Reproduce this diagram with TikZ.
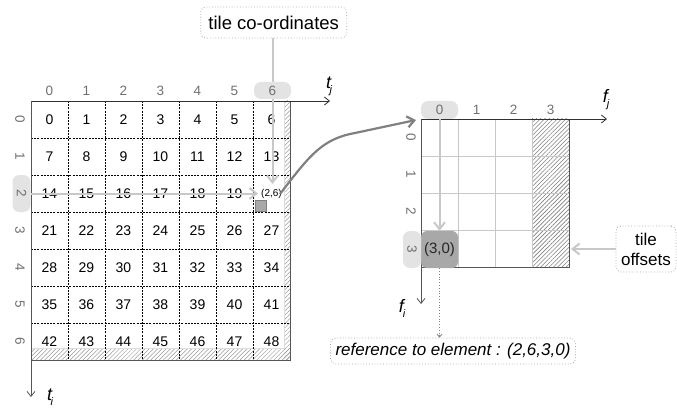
\documentclass[tikz,border=0pt]{standalone}
\usepackage{fontspec}
\setmainfont{Liberation Sans}
\usetikzlibrary{arrows.meta,patterns.meta,calc}
\definecolor{hl}{HTML}{E3E3E3}
\definecolor{lg}{HTML}{C8C8C8}
\definecolor{dg}{HTML}{808080}
\definecolor{cellg}{HTML}{A8A8A8}
\definecolor{lab}{HTML}{707070}
\definecolor{bord}{HTML}{555555}
\definecolor{axc}{HTML}{303030}
\newcommand{\fsz}[1]{\fontsize{#1}{#1}\selectfont}
\begin{document}
\begin{tikzpicture}[x=1pt,y=-1pt,
  axtip/.style={-{Straight Barb[length=5pt,width=8pt]}},
  axis/.style={draw=axc,line width=0.8pt,axtip},
  lgarrow/.style={draw=lg,line width=2pt,-{Straight Barb[length=7pt,width=11pt]}},
  cellnum/.style={font=\fsz{14},inner sep=0pt},
  collab/.style={font=\fsz{13.5},text=lab,inner sep=0pt,minimum width=37pt,minimum height=17pt,rounded corners=7pt},
  rowlab/.style={collab,rotate=-90,minimum height=18pt},
  dotbox/.style={draw=gray!70,dotted,line width=0.8pt,rounded corners=5pt,inner sep=2pt},
  hatchL/.style={pattern={Lines[angle=45,distance=3pt,line width=0.5pt]},pattern color=gray!80},
  hatchR/.style={pattern={Lines[angle=45,distance=3pt,line width=0.6pt]},pattern color=gray},
  inner/.style={draw=black,line width=0.6pt,dash pattern=on 2pt off 1.2pt},
  rinner/.style={draw=lg,line width=0.8pt},
  border/.style={draw=bord,line width=1pt},
  axlab/.style={font=\fsz{18}\itshape,inner sep=0pt}
]
\useasboundingbox (0,0) rectangle (677,409);

% ---------- left grid ----------
\fill[hatchL] (284,101) rectangle (290,360);
\fill[hatchL] (31,348) rectangle (290,360);
\draw[draw=lg!60,line width=0.5pt] (284,101) -- (284,348) -- (31,348);
\foreach \i in {1,...,6}{
  \draw[inner] ({31+37*\i},101) -- ({31+37*\i},360);
  \draw[inner] (31,{101+37*\i}) -- (290,{101+37*\i});
}
\draw[border] (31,360) -- (290,360) -- (290,101);
\draw[axis] (31,101) -- (330,101);
\draw[axis,draw=bord] (31,101) -- (31,397);

\foreach \r in {0,...,6}{
  \foreach \c in {0,...,6}{
    \pgfmathtruncatemacro\n{7*\r+\c}
    \ifnum\n=20
      \node[cellnum,font=\fsz{10}] (cell-\r-\c) at ({49.5+37*\c},{119.5+37*\r}) {(2,6)};
    \else
      \node[cellnum] (cell-\r-\c) at ({49.5+37*\c},{119.5+37*\r}) {\n};
    \fi
  }
}
\node[draw=gray,fill=cellg,line width=0.4pt,minimum size=11pt,inner sep=0pt] (sq) at (260.5,206) {};

% boxes
\node[dotbox,font=\fsz{18.5},minimum width=146pt,minimum height=31pt] (tc) at (273.7,22.5) {tile co-ordinates};
\node[dotbox,font=\fontsize{17}{20}\selectfont,align=center,minimum width=60pt,minimum height=46pt,inner sep=1pt] (to) at (646,249) {tile\\offsets};

% light gray arrows (left)
\coordinate (vend) at (272.5,184);
\coordinate (hend) at (258,193.5);
\draw[lgarrow] (tc.south -| vend) -- (vend);
\node[rowlab,fill=hl] (r2) at (21.5,193.5) {2};
\draw[lgarrow] (r2.north) -- (hend);

% labels
\foreach \c in {0,...,5}{
  \node[collab] (c\c) at ({49.5+37*\c},91) {\c};
}
\node[collab,fill=hl] (c6) at (272.5,90.5) {6};
\foreach \r in {0,1,3,4,5,6}{
  \node[rowlab] (r\r) at (20,{119.5+37*\r}) {\r};
}
\node[axlab] (tj) at (329,86) {t\kern-1.5pt\raisebox{-5pt}{\fsz{11}j}};
\node[axlab] (ti) at (50,397) {t\kern-1.5pt\raisebox{-5pt}{\fsz{11}i}};

% ---------- right grid ----------
\fill[hatchR] (532,119) rectangle (569,267);
\foreach \i in {1,2,3}{
  \draw[rinner] ({421+37*\i},119) -- ({421+37*\i},267);
  \draw[rinner] (421,{119+37*\i}) -- (569,{119+37*\i});
}
\draw[border] (421,267) -- (569,267) -- (569,119);
\draw[axis] (421,119) -- (607,119);
\draw[axis,draw=bord] (421,119) -- (421,304);

\node[fill=cellg,rounded corners=6pt,minimum width=37pt,minimum height=37pt,inner sep=0pt,font=\fsz{15},text=black!85] (e30) at (439.5,249.5) {(3,0)};
\node[rowlab,fill=hl,minimum height=18pt] (s3) at (412,249.5) {3};
\foreach \r in {0,1,2}{
  \node[rowlab] (s\r) at (411,{137.5+37*\r}) {\r};
}
\node[collab,fill=hl,minimum height=18pt] (f0) at (439.5,110) {0};
\foreach \c in {1,2,3}{
  \node[collab] (f\c) at ({439.5+37*\c},110) {\c};
}
\draw[lgarrow] (f0.south) -- (e30.north);
\node[axlab] (fj) at (606,100) {f\kern-1pt\raisebox{-5pt}{\fsz{11}j}};
\node[axlab] (fi) at (402,308) {f\kern-1pt\raisebox{-5pt}{\fsz{11}i}};

% tile offsets arrow
\coordinate (hoff) at (571,249);
\draw[lgarrow] (to.west) -- (hoff);

% reference box
\node[dotbox,font=\fsz{17}\itshape,minimum height=22pt,inner sep=5pt] (ref) at (453,351) {reference to element : (2,6,3,0)};
\draw[draw=gray,dotted,line width=0.8pt,-{Straight Barb[length=3pt,width=5pt]}] (e30.south) -- (e30.south |- ref.north);

% dark curved arrow
\coordinate (cs) at (280,194);
\coordinate (rO) at (416,120);
\draw[draw=dg,line width=2.2pt,-{Straight Barb[length=7pt,width=11pt]}] (cs) .. controls (310,155) and (322,139) .. (355,133) -- (rO);
\end{tikzpicture}
\end{document}
